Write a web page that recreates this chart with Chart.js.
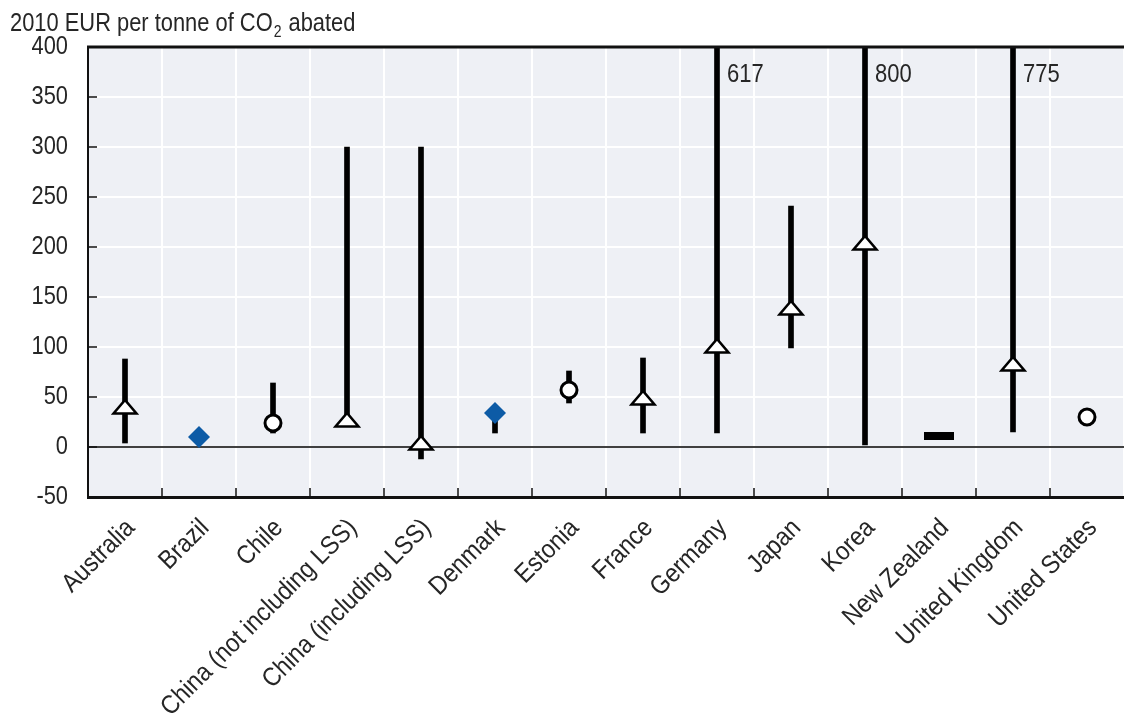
<!DOCTYPE html>
<html>
<head>
<meta charset="utf-8">
<script src="https://cdn.jsdelivr.net/npm/chart.js@4.4.1/dist/chart.umd.min.js"></script>
<style>
  html, body { margin: 0; padding: 0; background: #ffffff; }
  #wrap { width: 1124px; height: 715px; position: relative; }
</style>
</head>
<body>
<div id="wrap"><canvas id="c" width="1124" height="715"></canvas></div>
<script>
// ---- Data ----
const categories = ['Australia', 'Brazil', 'Chile', 'China (not including LSS)', 'China (including LSS)', 'Denmark', 'Estonia', 'France', 'Germany', 'Japan', 'Korea', 'New Zealand', 'United Kingdom', 'United States'];
const rangeLow  = [4, null, 14, 27, -12, 14, 44, 14, 14, 99, 2, null, 15, null];
const rangeHigh = [88, null, 64, 300, 300, 34, 76, 89, 617, 241, 800, null, 775, null];
const triangleValues = [40, null, null, 27, 4, null, null, 49, 101, 139, 204, null, 83, null];
const circleValues   = [null, null, 24, null, null, null, 57, null, null, null, null, null, null, 30];
const diamondValues  = [null, 10, null, null, null, 34, null, null, null, null, null, null, null, null];
const dashValues     = [null, null, null, null, null, null, null, null, null, null, null, 11, null, null];
const yTicks = [-50, 0, 50, 100, 150, 200, 250, 300, 350, 400];
const yTitle = ['2010 EUR per tonne of CO', '2', ' abated'];

const FONT = "'Liberation Sans', Arial, sans-serif";
const TEXT = '#262626';

// flattened open triangle marker sprite
function makeTriangle() {
  const cv = document.createElement('canvas');
  cv.width = 28; cv.height = 18;
  const g = cv.getContext('2d');
  g.beginPath();
  g.moveTo(14, 2);
  g.lineTo(2.5, 15.5);
  g.lineTo(25.5, 15.5);
  g.closePath();
  g.fillStyle = '#ffffff';
  g.fill();
  g.lineWidth = 2.6;
  g.lineJoin = 'miter';
  g.strokeStyle = '#000000';
  g.stroke();
  return cv;
}
const triSprite = makeTriangle();

const rangeData = rangeLow.map((lo, i) => (lo === null ? null : [lo, rangeHigh[i]]));

// condensed text helper (horizontal squeeze of a regular sans face)
function condText(ctx, text, x, y, size, squeeze, align, baseline, rot) {
  ctx.save();
  ctx.translate(x, y);
  if (rot) ctx.rotate(rot);
  ctx.scale(squeeze, 1);
  ctx.font = size + 'px ' + FONT;
  ctx.textAlign = align;
  ctx.textBaseline = baseline;
  ctx.fillText(text, 0, 0);
  const w = ctx.measureText(text).width * squeeze;
  ctx.restore();
  return w;
}

const decorPlugin = {
  id: 'decor',
  beforeDraw(chart) {
    const { ctx, chartArea: a } = chart;
    ctx.save();
    ctx.fillStyle = '#eef0f5';
    ctx.fillRect(a.left, a.top, a.right - a.left, a.bottom - a.top);
    ctx.restore();
  },
  beforeDatasetsDraw(chart) {
    const { ctx, chartArea: a, scales } = chart;
    const y0 = scales.y.getPixelForValue(0);
    ctx.save();
    ctx.strokeStyle = '#000';
    ctx.lineWidth = 1.5;
    ctx.beginPath();
    ctx.moveTo(a.left, y0);
    ctx.lineTo(a.right, y0);
    ctx.stroke();
    ctx.restore();
  },
  afterDatasetsDraw(chart) {
    const { ctx, chartArea: a, scales } = chart;
    ctx.save();
    ctx.fillStyle = TEXT;
    // annotations for values beyond the axis
    rangeHigh.forEach((v, i) => {
      if (v !== null && v > scales.y.max) {
        const x = scales.x.getPixelForValue(i);
        condText(ctx, String(v), x + 10, a.top + 35, 25, 0.88, 'left', 'alphabetic', 0);
      }
    });
    // frame top line
    ctx.strokeStyle = '#111';
    ctx.lineWidth = 3;
    ctx.beginPath();
    ctx.moveTo(a.left - 1, a.top);
    ctx.lineTo(a.right, a.top);
    ctx.stroke();
    // inward tick marks on y axis
    ctx.lineWidth = 1.5;
    ctx.beginPath();
    scales.y.ticks.forEach(t => {
      const y = scales.y.getPixelForValue(t.value);
      ctx.moveTo(a.left, y);
      ctx.lineTo(a.left + 9, y);
    });
    // inward tick marks on x axis at category boundaries
    for (let i = 0; i + 1 < categories.length; i++) {
      const x = (scales.x.getPixelForValue(i) + scales.x.getPixelForValue(i + 1)) / 2;
      ctx.moveTo(x, a.bottom);
      ctx.lineTo(x, a.bottom - 9);
    }
    ctx.stroke();
    // y tick labels
    scales.y.ticks.forEach(t => {
      const y = scales.y.getPixelForValue(t.value);
      condText(ctx, String(t.value), a.left - 20, y, 26, 0.84, 'right', 'middle', 0);
    });
    // x tick labels (rotated 45 degrees)
    categories.forEach((lab, i) => {
      const x = scales.x.getPixelForValue(i);
      condText(ctx, lab, x + 6, a.bottom + 27, 26, 0.9, 'right', 'middle', -Math.PI / 4);
    });
    // title
    let tx = 10;
    const ty = 31;
    tx += condText(ctx, yTitle[0], tx, ty, 25, 0.875, 'left', 'alphabetic', 0);
    tx += condText(ctx, yTitle[1], tx + 1, ty + 6, 16, 0.875, 'left', 'alphabetic', 0) + 2;
    condText(ctx, yTitle[2], tx, ty, 25, 0.875, 'left', 'alphabetic', 0);
    ctx.restore();
  }
};

new Chart(document.getElementById('c'), {
  data: {
    labels: categories,
    datasets: [
      {
        type: 'bar',
        label: 'Range',
        data: rangeData,
        backgroundColor: '#000000',
        barThickness: 5,
        order: 5
      },
      {
        type: 'line',
        label: 'Triangle',
        data: triangleValues,
        showLine: false,
        pointStyle: triSprite,
        pointRadius: 10,
        order: 1
      },
      {
        type: 'line',
        label: 'Circle',
        data: circleValues,
        showLine: false,
        pointStyle: 'circle',
        pointRadius: 8,
        pointBorderWidth: 3,
        pointBackgroundColor: '#ffffff',
        pointBorderColor: '#000000',
        order: 1
      },
      {
        type: 'line',
        label: 'Diamond',
        data: diamondValues,
        showLine: false,
        pointStyle: 'rectRot',
        pointRadius: 11,
        pointBorderWidth: 0,
        pointBackgroundColor: '#0d5ba6',
        pointBorderColor: '#0d5ba6',
        order: 1
      },
      {
        type: 'line',
        label: 'Dash',
        data: dashValues,
        showLine: false,
        pointStyle: 'line',
        pointRadius: 15,
        pointBorderWidth: 8,
        pointBorderColor: '#000000',
        order: 1
      }
    ]
  },
  options: {
    responsive: false,
    devicePixelRatio: 1,
    animation: false,
    layout: { autoPadding: false, padding: { top: 47, left: 0, right: 0, bottom: 0 } },
    plugins: {
      legend: { display: false },
      tooltip: { enabled: false },
      title: { display: false }
    },
    scales: {
      x: {
        type: 'category',
        offset: true,
        grid: { color: '#ffffff', lineWidth: 2, offset: true, drawTicks: false },
        border: { color: '#111', width: 3 },
        ticks: { display: false, autoSkip: false },
        afterFit(scale) { scale.height = 218; scale.paddingLeft = 0; scale.paddingRight = 0; }
      },
      y: {
        min: -50,
        max: 400,
        afterBuildTicks(scale) { scale.ticks = yTicks.map(v => ({ value: v })); },
        grid: { color: '#ffffff', lineWidth: 2, drawTicks: false },
        border: { color: '#111', width: 2 },
        ticks: { display: false },
        afterFit(scale) { scale.width = 88; scale.paddingTop = 0; scale.paddingBottom = 0; }
      }
    }
  },
  plugins: [decorPlugin]
});
</script>
</body>
</html>
